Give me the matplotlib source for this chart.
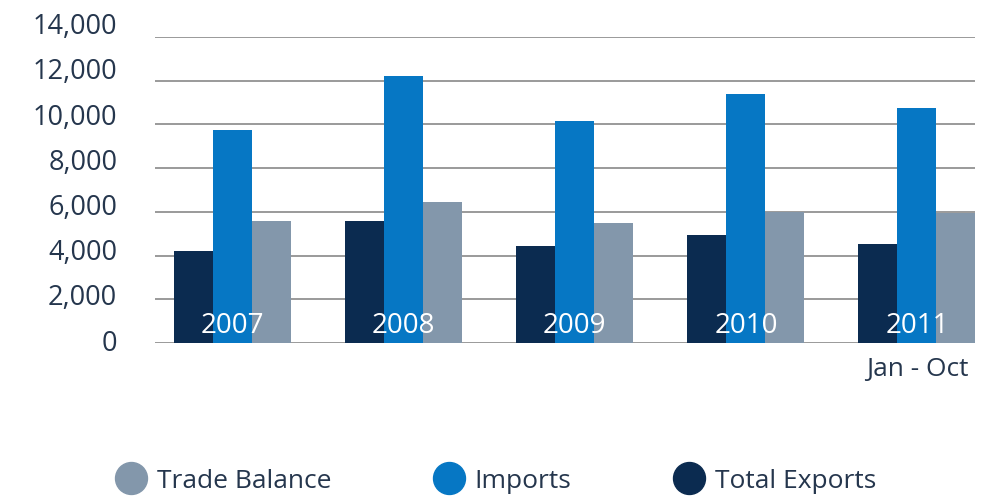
import matplotlib
matplotlib.use("Agg")
import matplotlib.pyplot as plt
import matplotlib.transforms as mtransforms
from matplotlib.lines import Line2D
import numpy as np

years = ["2007", "2008", "2009", "2010", "2011"]
total_exports = [4200, 5600, 4450, 4950, 4550]
imports = [9750, 12200, 10150, 11400, 10750]
trade_balance = [5600, 6450, 5500, 6000, 5950]
yticks = [0, 2000, 4000, 6000, 8000, 10000, 12000, 14000]

c_exp = "#0b2b50"
c_imp = "#0677c4"
c_tb = "#8397ab"
c_text = "#25364d"

plt.rcParams["font.family"] = ["Open Sans", "DejaVu Sans"]

fig = plt.figure(figsize=(9.85, 4.99), dpi=100)
ax = fig.add_axes([0.157, 0.3126, 0.833, 0.6133])

x = np.arange(len(years))
w = 0.228
ax.bar(x - w, total_exports, w, color=c_exp, zorder=2)
ax.bar(x, imports, w, color=c_imp, zorder=2)
ax.bar(x + w, trade_balance, w, color=c_tb, zorder=2)

for xi, yr in zip(x, years):
    ax.text(xi, 760, yr, color="white", ha="center", va="center", fontsize=20, zorder=3)
ax.text(x[-1] + 0.3, -1200, "Jan - Oct", color=c_text, ha="right", va="center", fontsize=19)

ax.set_xlim(-0.456, 4.34)
ax.set_ylim(0, 14000)
ax.set_yticks(yticks)
ax.set_yticklabels([f"{v:,}" for v in yticks])
ax.yaxis.grid(True, color="#929292", lw=1.3, zorder=0)
ax.set_axisbelow(True)
ax.tick_params(axis="y", length=0, pad=27, labelsize=19.5, labelcolor=c_text)
ax.set_xticks([])
for s in ["top", "right", "left", "bottom"]:
    ax.spines[s].set_visible(False)

# labels sit a little above their gridlines
for i, lab in enumerate(ax.get_yticklabels()):
    off = mtransforms.ScaledTranslation(0, (3 + 1.45 * i) / 100, fig.dpi_scale_trans)
    lab.set_transform(lab.get_transform() + off)

handles = [Line2D([], [], ls="", marker="o", ms=23, color=c) for c in (c_tb, c_imp, c_exp)]
fig.legend(handles, ["Trade Balance", "Imports", "Total Exports"], loc="center left",
           bbox_to_anchor=(0.093, 0.036), ncol=3, frameon=False, fontsize=19,
           handlelength=1.2, handletextpad=0.38, columnspacing=3.85, labelcolor=c_text)

fig.savefig("out.png", dpi=100)
